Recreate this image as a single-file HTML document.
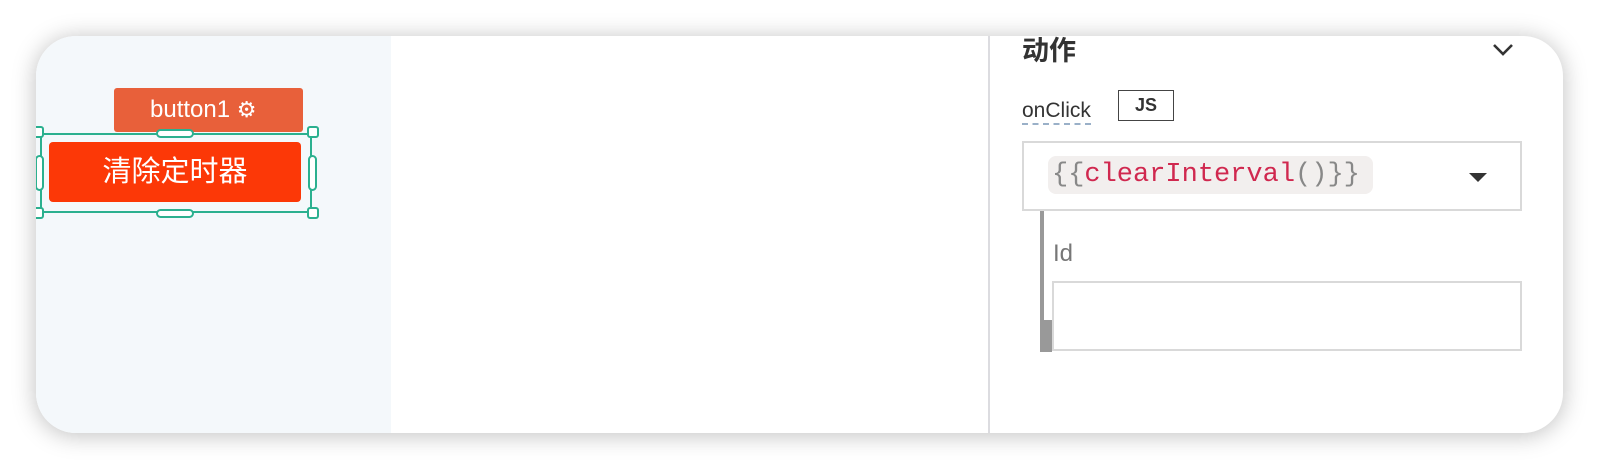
<!DOCTYPE html>
<html><head><meta charset="utf-8"><style>
*{margin:0;padding:0;box-sizing:border-box}
body{width:1600px;height:470px;background:#fff;position:relative;overflow:hidden;font-family:"Liberation Sans","Noto Sans CJK SC",sans-serif}
.card{position:absolute;left:36px;top:36px;width:1527px;height:397px;border-radius:40px;background:#fff;overflow:hidden;box-shadow:0 2px 24px rgba(0,0,0,0.26)}
.a{position:absolute}
.h{position:absolute;background:#fff;border:2px solid #2bb08f;border-radius:3px}
</style></head><body>
<div class="card">
  <div class="a" style="left:0;top:0;width:355px;height:397px;background:#f4f8fb"></div>
  <div class="a" style="left:952px;top:0;width:2px;height:397px;background:#dcdce0"></div>
  <!-- tag -->
  <div class="a" style="left:78px;top:52px;width:189px;height:44px;background:#e8603a;border-radius:3px;color:#fff;font-size:24px;line-height:44px;padding-left:36px">button1 <span style="font-size:22px">⚙</span></div>
  <!-- selection -->
  <div class="a" style="left:4px;top:97px;width:272px;height:80px;border:2px solid #2bb08f"></div>
  <div class="a" style="left:13px;top:106px;width:252px;height:60px;background:#fc3807;border-radius:4px;color:#fff;font-size:29px;line-height:60px;text-align:center">清除定时器</div>
  <div class="h" style="left:-4px;top:90px;width:12px;height:12px"></div>
  <div class="h" style="left:-4px;top:171px;width:12px;height:12px"></div>
  <div class="h" style="left:271px;top:90px;width:12px;height:12px"></div>
  <div class="h" style="left:271px;top:171px;width:12px;height:12px"></div>
  <div class="h" style="left:120px;top:93px;width:38px;height:9px;border-radius:5px"></div>
  <div class="h" style="left:120px;top:173px;width:38px;height:9px;border-radius:5px"></div>
  <div class="h" style="left:-1px;top:119px;width:9px;height:36px;border-radius:5px"></div>
  <div class="h" style="left:272px;top:119px;width:9px;height:36px;border-radius:5px"></div>
  <!-- right panel -->
  <div class="a" style="left:986px;top:-7px;font-size:27px;font-weight:bold;color:#333">动作</div>
  <svg class="a" style="left:1456px;top:7px" width="22" height="14"><path d="M2 2 L11 11 L20 2" stroke="#333" stroke-width="2.6" fill="none"/></svg>
  <div class="a" style="left:986px;top:62px;font-size:21px;color:#333;border-bottom:2px dashed #9ab0c8;line-height:25px">onClick</div>
  <div class="a" style="left:1082px;top:54px;width:56px;height:31px;border:1.5px solid #444;font-size:18px;font-weight:bold;color:#333;text-align:center;line-height:28px">JS</div>
  <div class="a" style="left:986px;top:105px;width:500px;height:70px;border:2px solid #d9d9d9"></div>
  <div class="a" style="left:1012px;top:120px;width:325px;height:38px;background:#f2efee;border-radius:8px;font-family:'Liberation Mono',monospace;font-size:27px;line-height:38px;padding-left:4px;color:#888"><span>{{</span><span style="color:#d0284f">clearInterval</span><span>()}}</span></div>
  <svg class="a" style="left:1433px;top:137px" width="18" height="9"><path d="M0 0 L18 0 L9 9Z" fill="#333"/></svg>
  <div class="a" style="left:1004px;top:175px;width:4px;height:141px;background:#999"></div>
  <div class="a" style="left:1004px;top:284px;width:12px;height:32px;background:#999"></div>
  <div class="a" style="left:1017px;top:204px;font-size:24px;color:#777">Id</div>
  <div class="a" style="left:1016px;top:245px;width:470px;height:70px;border:2px solid #d9d9d9;background:#fff"></div>
</div>
</body></html>
